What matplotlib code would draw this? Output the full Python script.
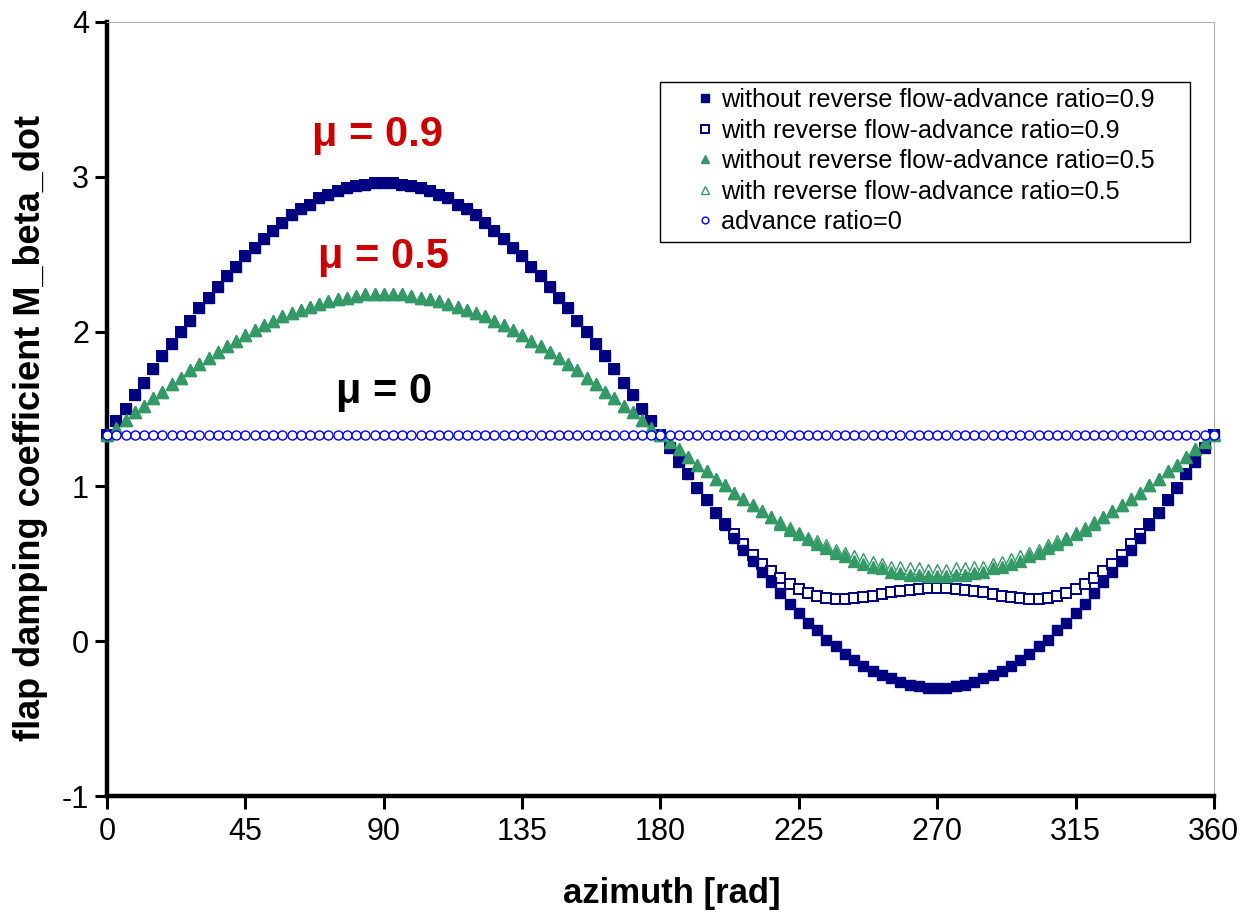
import matplotlib
matplotlib.use("Agg")
import matplotlib.pyplot as plt
from matplotlib.patches import Rectangle
import numpy as np

plt.rcParams["font.family"] = ["Liberation Sans", "DejaVu Sans"]
plt.rcParams["axes.unicode_minus"] = False

# azimuth samples, every 3 degrees
azimuth = np.arange(0, 361, 3)

# without reverse flow, advance ratio 0.9
no_rev_09 = [
    1.33, 1.42, 1.50, 1.59, 1.67, 1.76, 1.84, 1.92, 2.00, 2.07, 2.15, 2.22, 2.29, 2.36, 2.42, 2.49,
    2.54, 2.60, 2.65, 2.70, 2.75, 2.79, 2.82, 2.86, 2.88, 2.91, 2.93, 2.94, 2.95, 2.96, 2.96,
    2.96, 2.95, 2.94, 2.93, 2.91, 2.88, 2.86, 2.82, 2.79, 2.75, 2.70, 2.65, 2.60, 2.54, 2.49,
    2.42, 2.36, 2.29, 2.22, 2.15, 2.07, 2.00, 1.92, 1.84, 1.76, 1.67, 1.59, 1.50, 1.42, 1.33,
    1.25, 1.16, 1.08, 0.99, 0.91, 0.83, 0.75, 0.67, 0.59, 0.52, 0.45, 0.38, 0.31, 0.24, 0.18,
    0.12, 0.07, 0.01, -0.03, -0.08, -0.12, -0.16, -0.19, -0.22, -0.24, -0.26, -0.28, -0.29, -0.30, -0.30,
    -0.30, -0.29, -0.28, -0.26, -0.24, -0.22, -0.19, -0.16, -0.12, -0.08, -0.03, 0.01, 0.07, 0.12, 0.18,
    0.24, 0.31, 0.38, 0.45, 0.52, 0.59, 0.67, 0.75, 0.83, 0.91, 0.99, 1.08, 1.16, 1.25, 1.33,
]

# with reverse flow, advance ratio 0.9 (same as above on the advancing side)
rev_09 = no_rev_09[:61] + [
    1.25, 1.16, 1.08, 0.99, 0.91, 0.83, 0.76, 0.69, 0.63, 0.56, 0.50, 0.455, 0.41, 0.37, 0.34,
    0.31, 0.29, 0.28, 0.275, 0.275, 0.28, 0.285, 0.295, 0.305, 0.315, 0.325, 0.333, 0.34, 0.345, 0.347,
    0.345, 0.34, 0.333, 0.325, 0.315, 0.305, 0.295, 0.285, 0.28, 0.275, 0.275, 0.28, 0.29, 0.31, 0.34,
    0.37, 0.41, 0.455, 0.50, 0.56, 0.63, 0.69, 0.76, 0.83, 0.91, 0.99, 1.08, 1.16, 1.25, 1.33,
]

# without reverse flow, advance ratio 0.5
no_rev_05 = [
    1.33, 1.38, 1.43, 1.48, 1.52, 1.57, 1.61, 1.66, 1.70, 1.75, 1.79, 1.83, 1.87, 1.91, 1.94, 1.98,
    2.01, 2.04, 2.07, 2.10, 2.12, 2.14, 2.16, 2.18, 2.20, 2.21, 2.22, 2.23, 2.24, 2.24, 2.24,
    2.24, 2.24, 2.23, 2.22, 2.21, 2.20, 2.18, 2.16, 2.14, 2.12, 2.10, 2.07, 2.04, 2.01, 1.98,
    1.94, 1.91, 1.87, 1.83, 1.79, 1.75, 1.70, 1.66, 1.61, 1.57, 1.52, 1.48, 1.43, 1.38, 1.33,
    1.29, 1.24, 1.19, 1.14, 1.10, 1.05, 1.01, 0.96, 0.92, 0.88, 0.84, 0.80, 0.76, 0.72, 0.69,
    0.66, 0.63, 0.60, 0.57, 0.55, 0.52, 0.50, 0.48, 0.47, 0.45, 0.44, 0.43, 0.43, 0.42, 0.42,
    0.42, 0.43, 0.43, 0.44, 0.45, 0.47, 0.48, 0.50, 0.52, 0.55, 0.57, 0.60, 0.63, 0.66, 0.69,
    0.72, 0.76, 0.80, 0.84, 0.88, 0.92, 0.96, 1.01, 1.05, 1.10, 1.14, 1.19, 1.24, 1.29, 1.33,
]

# with reverse flow, advance ratio 0.5
rev_05 = no_rev_05[:61] + [
    1.29, 1.24, 1.19, 1.14, 1.10, 1.05, 1.01, 0.96, 0.92, 0.88, 0.84, 0.80, 0.77, 0.73, 0.70,
    0.67, 0.65, 0.62, 0.59, 0.57, 0.55, 0.53, 0.51, 0.50, 0.48, 0.48, 0.47, 0.47, 0.46, 0.46,
    0.46, 0.47, 0.47, 0.48, 0.48, 0.50, 0.51, 0.53, 0.55, 0.57, 0.59, 0.62, 0.65, 0.67, 0.70,
    0.73, 0.77, 0.80, 0.84, 0.88, 0.92, 0.96, 1.01, 1.05, 1.10, 1.14, 1.19, 1.24, 1.29, 1.33,
]

# hover, advance ratio 0
mu_0 = [1.333] * len(azimuth)

labels = [
    "without reverse flow-advance ratio=0.9",
    "with reverse flow-advance ratio=0.9",
    "without reverse flow-advance ratio=0.5",
    "with reverse flow-advance ratio=0.5",
    "advance ratio=0",
]

navy = "#000080"
green = "#339966"
blue = "#0000FF"

fig = plt.figure(figsize=(12.45, 9.14), dpi=100)
ax = fig.add_axes([0.086, 0.129, 0.889, 0.847])

# hollow (reverse flow) markers sit below the filled ones
ax.plot(azimuth, no_rev_09, ls="none", marker="s", ms=7.5, color=navy, mec=navy,
        label=labels[0], clip_on=False, zorder=4)
ax.plot(azimuth, rev_09, ls="none", marker="s", ms=7.0, mfc="white", mec=navy, mew=1.4,
        label=labels[1], clip_on=False, zorder=3)
ax.plot(azimuth, no_rev_05, ls="none", marker="^", ms=8.5, color=green, mec=green,
        label=labels[2], clip_on=False, zorder=4)
ax.plot(azimuth, rev_05, ls="none", marker="^", ms=8.0, mfc="white", mec=green, mew=1.0,
        label=labels[3], clip_on=False, zorder=3)
ax.plot(azimuth, mu_0, ls="none", marker="o", ms=6.5, mfc="white", mec=blue, mew=1.0,
        label=labels[4], clip_on=False, zorder=5)

ax.set_xlim(0, 360)
ax.set_ylim(-1, 4)
ax.set_xticks(np.arange(0, 361, 45))
ax.set_yticks(np.arange(-1, 5, 1))

for side in ["left", "bottom"]:
    ax.spines[side].set_linewidth(3.2)
    ax.spines[side].set_color("black")
for side in ["top", "right"]:
    ax.spines[side].set_linewidth(0.8)
    ax.spines[side].set_color("#b0b0b0")

ax.tick_params(axis="both", direction="out", length=9, width=2.2, labelsize=22)
ax.tick_params(axis="x", pad=6)
ax.tick_params(axis="y", pad=4)

ax.set_xlabel("azimuth [rad]", fontsize=25, fontweight="bold")
ax.xaxis.set_label_coords(0.51, -0.104)
ax.set_ylabel("flap damping coefficient M_beta_dot", fontsize=26, fontweight="bold")
ax.yaxis.set_label_coords(-0.053, 0.475)

ax.text(88, 3.27, "\u03bc = 0.9", color="#CC0000", fontsize=30, fontweight="bold", ha="center", va="center")
ax.text(90, 2.48, "\u03bc = 0.5", color="#CC0000", fontsize=30, fontweight="bold", ha="center", va="center")
ax.text(90, 1.61, "\u03bc = 0", color="black", fontsize=30, fontweight="bold", ha="center", va="center")

# legend box (Excel style: wide left margin before the markers)
box = Rectangle((660 / 1245, 1 - 242 / 914), 530 / 1245, 160 / 914, transform=fig.transFigure,
                facecolor="white", edgecolor="black", lw=1.0, zorder=6, clip_on=False)
ax.add_patch(box)

leg = ax.legend(loc="upper left", bbox_to_anchor=(697 / 1245, 1 - 88 / 914),
                bbox_transform=fig.transFigure, fontsize=18.2, frameon=False,
                handlelength=0.6, handletextpad=0.35, numpoints=1,
                markerscale=0.75, borderpad=0, labelspacing=0.26, borderaxespad=0)
leg.set_zorder(7)

fig.savefig("out.png", dpi=100)
